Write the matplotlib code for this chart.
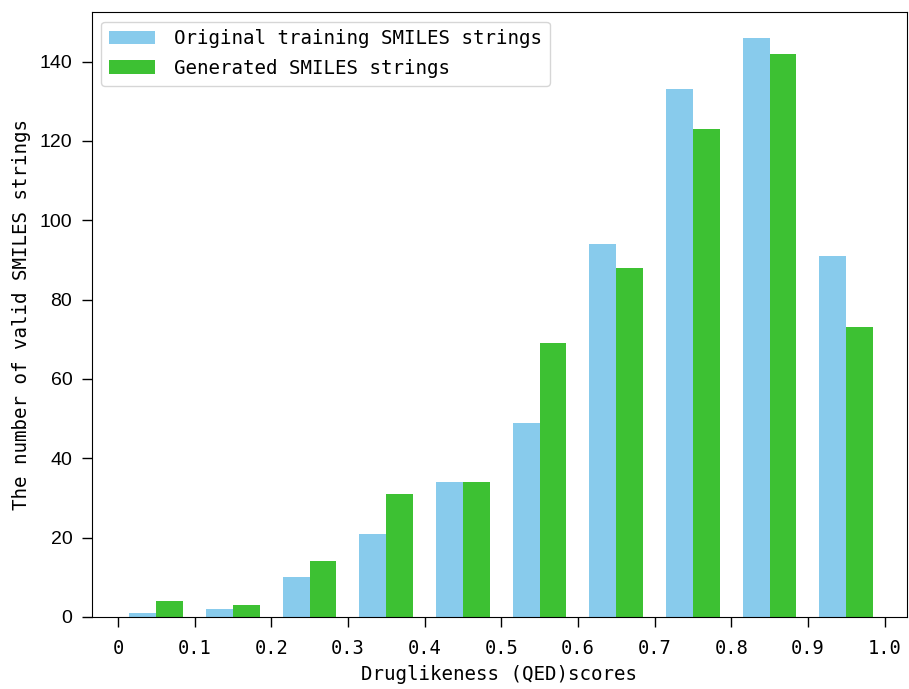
import numpy as np
import matplotlib
matplotlib.use('Agg')
import matplotlib.pyplot as plt

# histogram bins (QED score) and counts per bin
bin_edges = [0.0, 0.1, 0.2, 0.3, 0.4, 0.5, 0.6, 0.7, 0.8, 0.9, 1.0]
original_counts = [1, 2, 10, 21, 34, 49, 94, 133, 146, 91]
generated_counts = [4, 3, 14, 31, 34, 69, 88, 123, 142, 73]
x_ticks = [0, 0.1, 0.2, 0.3, 0.4, 0.5, 0.6, 0.7, 0.8, 0.9, 1.0]
x_tick_labels = ['0', '0.1', '0.2', '0.3', '0.4', '0.5', '0.6', '0.7', '0.8', '0.9', '1.0']
y_ticks = [0, 20, 40, 60, 80, 100, 120, 140]

mono = 'DejaVu Sans Mono'

fig = plt.figure(figsize=(9.09, 6.89), dpi=100)
ax = fig.add_axes([0.101, 0.1045, 0.8966, 0.878])

edges = np.array(bin_edges)
centers = (edges[:-1] + edges[1:]) / 2
ax.hist([centers, centers], bins=edges, weights=[original_counts, generated_counts],
        rwidth=0.7, color=['#88cbec', '#3dc133'],
        label=['Original training SMILES strings', 'Generated SMILES strings'])

ax.set_xlim(-0.034, 1.029)
ax.set_ylim(0, 152.5)
ax.set_xticks(x_ticks)
ax.set_xticklabels(x_tick_labels, fontfamily=mono, fontsize=13.5)
ax.set_yticks(y_ticks)
ax.tick_params(axis='y', labelsize=14, pad=7)
ax.tick_params(axis='x', pad=9)
ax.tick_params(axis='both', length=7, width=1)
for lab in ax.get_yticklabels():
    lab.set_fontfamily('Liberation Sans')

ax.set_xlabel('Druglikeness (QED)scores', fontfamily=mono, fontsize=13.8, labelpad=5)
ax.set_ylabel('The number of valid SMILES strings', fontfamily=mono, fontsize=13.8, labelpad=6)

ax.legend(loc='upper left', prop={'family': mono, 'size': 13.8}, handlelength=2.4,
          handletextpad=1.0, labelspacing=0.55, borderaxespad=0.5, fancybox=True)

fig.savefig('out.png', dpi=100)
